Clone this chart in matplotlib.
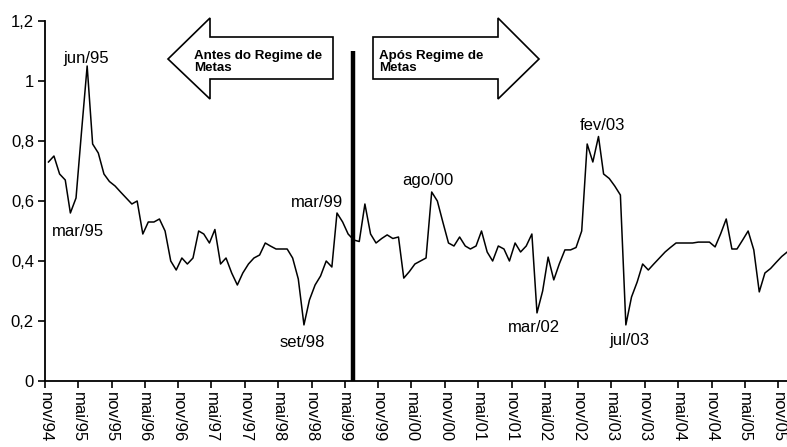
import matplotlib
matplotlib.use('Agg')
import matplotlib.pyplot as plt
from matplotlib.patches import Polygon
import pandas as pd

plt.rcParams['font.family'] = ['Liberation Sans', 'DejaVu Sans']

# monthly series, nov/94 .. dez/05
values = [
    0.73, 0.75, 0.69, 0.67, 0.56, 0.61, 0.83, 1.05, 0.79, 0.76, 0.69, 0.665,   # nov/94 - out/95
    0.65, 0.63, 0.61, 0.59, 0.60, 0.49, 0.53, 0.53, 0.54, 0.50, 0.40, 0.37,    # nov/95 - out/96
    0.41, 0.39, 0.41, 0.50, 0.49, 0.46, 0.505, 0.39, 0.41, 0.36, 0.32, 0.36,   # nov/96 - out/97
    0.39, 0.41, 0.42, 0.46, 0.45, 0.44, 0.44, 0.44, 0.41, 0.34, 0.187, 0.27,   # nov/97 - out/98
    0.32, 0.35, 0.40, 0.38, 0.56, 0.53, 0.49, 0.47, 0.465, 0.59, 0.49, 0.46,   # nov/98 - out/99
    0.475, 0.487, 0.475, 0.48, 0.343, 0.365, 0.39, 0.40, 0.41, 0.63, 0.60, 0.53,  # nov/99 - out/00
    0.46, 0.45, 0.48, 0.45, 0.44, 0.45, 0.50, 0.43, 0.40, 0.45, 0.44, 0.40,    # nov/00 - out/01
    0.46, 0.43, 0.45, 0.49, 0.227, 0.30, 0.413, 0.337, 0.39, 0.437, 0.437, 0.445,  # nov/01 - out/02
    0.50, 0.79, 0.73, 0.815, 0.69, 0.675, 0.65, 0.62, 0.187, 0.28, 0.33, 0.39,  # nov/02 - out/03
    0.37, 0.39, 0.41, 0.43, 0.445, 0.46, 0.46, 0.46, 0.46, 0.463, 0.463, 0.463,  # nov/03 - out/04
    0.447, 0.49, 0.54, 0.44, 0.44, 0.47, 0.50, 0.437, 0.297, 0.36, 0.375, 0.395,  # nov/04 - out/05
    0.415, 0.43,                                                                 # nov/05 - dez/05
]
dates = pd.date_range('1994-11-01', periods=len(values), freq='MS') + pd.Timedelta(days=19)

tick_dates = pd.date_range('1994-11-01', '2005-11-01', freq='6MS')
tick_labels = ['nov/94', 'mai/95', 'nov/95', 'mai/96', 'nov/96', 'mai/97', 'nov/97',
               'mai/98', 'nov/98', 'mai/99', 'nov/99', 'mai/00', 'nov/00', 'mai/01',
               'nov/01', 'mai/02', 'nov/02', 'mai/03', 'nov/03', 'mai/04', 'nov/04',
               'mai/05', 'nov/05']

# labelled extremes: (label, index into values)
notes = [('jun/95', 7), ('mar/95', 4), ('set/98', 46), ('mar/99', 52),
         ('ago/00', 69), ('fev/03', 99), ('mar/02', 88), ('jul/03', 104)]
# label offsets in pixels (dx, dy up)
note_offsets = [(-0.5, 7), (8, -19), (-2, -18), (-20, 10),
                (-4, 12), (4, 11.5), (-3, -15), (4, -16)]

regime_date = pd.Timestamp('1999-06-15')

W, H = 787, 447
fig = plt.figure(figsize=(W / 100, H / 100), dpi=100)
ax = fig.add_axes([45 / W, 1 - 381 / H, 742 / W, 360 / H])

ax.plot(dates, values, color='black', lw=1.1)
ax.vlines(regime_date, 0, 1.1, color='black', lw=3.2)

ax.set_ylim(0, 1.2)
ax.set_xlim(pd.Timestamp('1994-11-01'), pd.Timestamp('2005-12-19'))
ax.set_yticks([0, 0.2, 0.4, 0.6, 0.8, 1.0, 1.2])
ax.set_yticklabels(['0', '0,2', '0,4', '0,6', '0,8', '1', '1,2'], fontsize=12)
ax.set_xticks(tick_dates)
ax.set_xticklabels(tick_labels, rotation=270, fontsize=12, va='top', ha='center')

for side in ['top', 'right']:
    ax.spines[side].set_visible(False)
for side in ['left', 'bottom']:
    ax.spines[side].set_linewidth(1.3)
ax.tick_params(direction='out', length=5, width=1.2, pad=3)

for (label, i), (dx, dy) in zip(notes, note_offsets):
    ax.annotate(label, xy=(dates[i], values[i]), xytext=(dx * 0.72, dy * 0.72),
                textcoords='offset points', ha='center', va='center', fontsize=12)


def px(x, y):
    return (x / W, 1 - y / H)


left_arrow = [px(168, 59), px(210, 18), px(210, 37), px(333, 37),
              px(333, 79), px(210, 79), px(210, 99)]
right_arrow = [px(373, 37), px(498, 37), px(498, 18), px(539, 59),
               px(498, 99), px(498, 79), px(373, 79)]
for pts in [left_arrow, right_arrow]:
    fig.patches.append(Polygon(pts, closed=True, facecolor='white', edgecolor='black',
                               lw=1.2, transform=fig.transFigure))

fig.text(*px(194, 50), 'Antes do Regime de\nMetas', fontsize=9.6, fontweight='bold',
         ha='left', va='top', linespacing=0.95)
fig.text(*px(379, 50), 'Após Regime de\nMetas', fontsize=9.6, fontweight='bold',
         ha='left', va='top', linespacing=0.95)

fig.savefig('out.png', dpi=100)
